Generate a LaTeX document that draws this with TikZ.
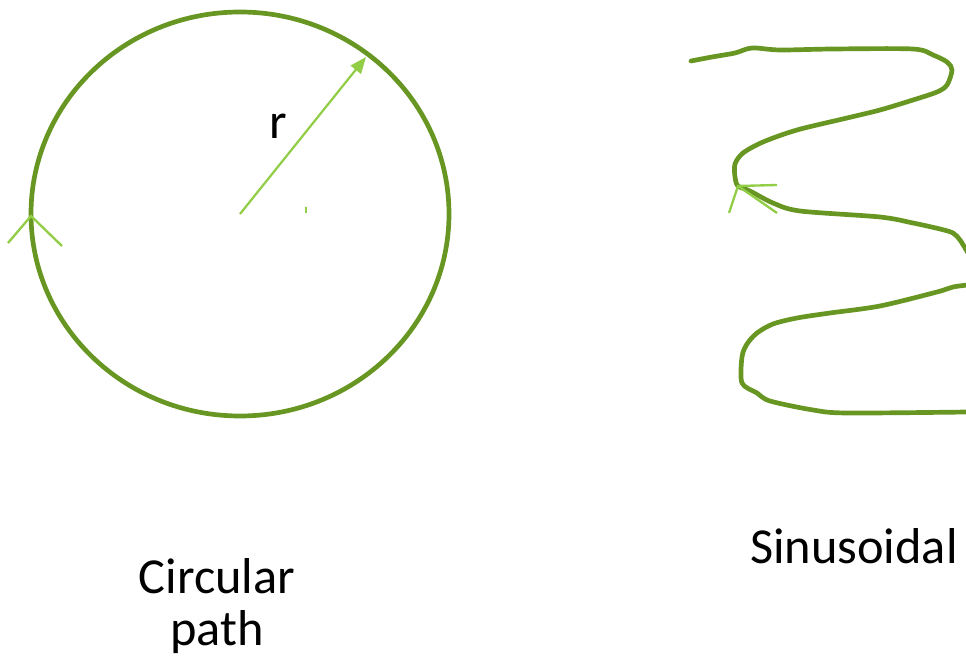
\documentclass[tikz,border=0pt]{standalone}
\usepackage{fontspec}
\setmainfont{Carlito}
\usetikzlibrary{arrows.meta, positioning, calc}
\definecolor{pathgreen}{RGB}{104,150,34}
\definecolor{markgreen}{RGB}{146,205,70}

\begin{document}
\begin{tikzpicture}[x=0.03cm, y=-0.03cm,
  curve/.style={draw=pathgreen, line width=4pt, line join=round, line cap=round},
  marker/.style={draw=markgreen, line width=2pt},
  caption/.style={font=\fontsize{43}{44}\selectfont, align=center, inner sep=0pt}]
  \useasboundingbox (0,0) rectangle (966,657);

  % Circular path
  \coordinate (c) at (240,214);
  \coordinate (rim) at (366,57);
  \draw[curve] (c) ellipse [x radius=209, y radius=202];
  \draw[-{Triangle[length=14pt,width=11pt]}, markgreen, line width=1.9pt] (c) -- (rim);
  \node[caption] (r) at (278,126) {r};
  \draw[marker] (306,207) -- (306,213);
  \coordinate (m1) at (31,216);
  \draw[marker] (8,243) -- (m1) -- (62,246);
  \node[caption] (circ) at (217,606) {Circular\\path};

  % Sinusoidal
  \draw[curve] plot[smooth, tension=0.5] coordinates {
    (691,61) (712,57) (735,53) (752,48) (780,50) (833,49) (913,49)
    (933,55) (947,62) (952,70) (947,85) (937,92) (913,100) (880,110) (847,118)
    (797,130) (763,142) (743,153) (735,164) (735,177) (738,186) (750,191)
    (773,203) (800,211) (880,217) (913,223) (940,229) (953,233) (960,240) (968,253)};
  \draw[curve] plot[smooth, tension=0.5] coordinates {
    (968,285) (953,287) (937,292) (880,306) (830,313) (797,318) (773,324)
    (757,333) (747,344) (742,357) (742,383) (757,393) (770,401) (813,410)
    (847,413) (968,412)};
  \coordinate (m2) at (738,186);
  \draw[marker] (777,185) -- (m2) -- (729,213);
  \draw[marker] (m2) -- (777,213);
  \node[caption] (sin) at (854,546) {Sinusoidal};
\end{tikzpicture}
\end{document}
